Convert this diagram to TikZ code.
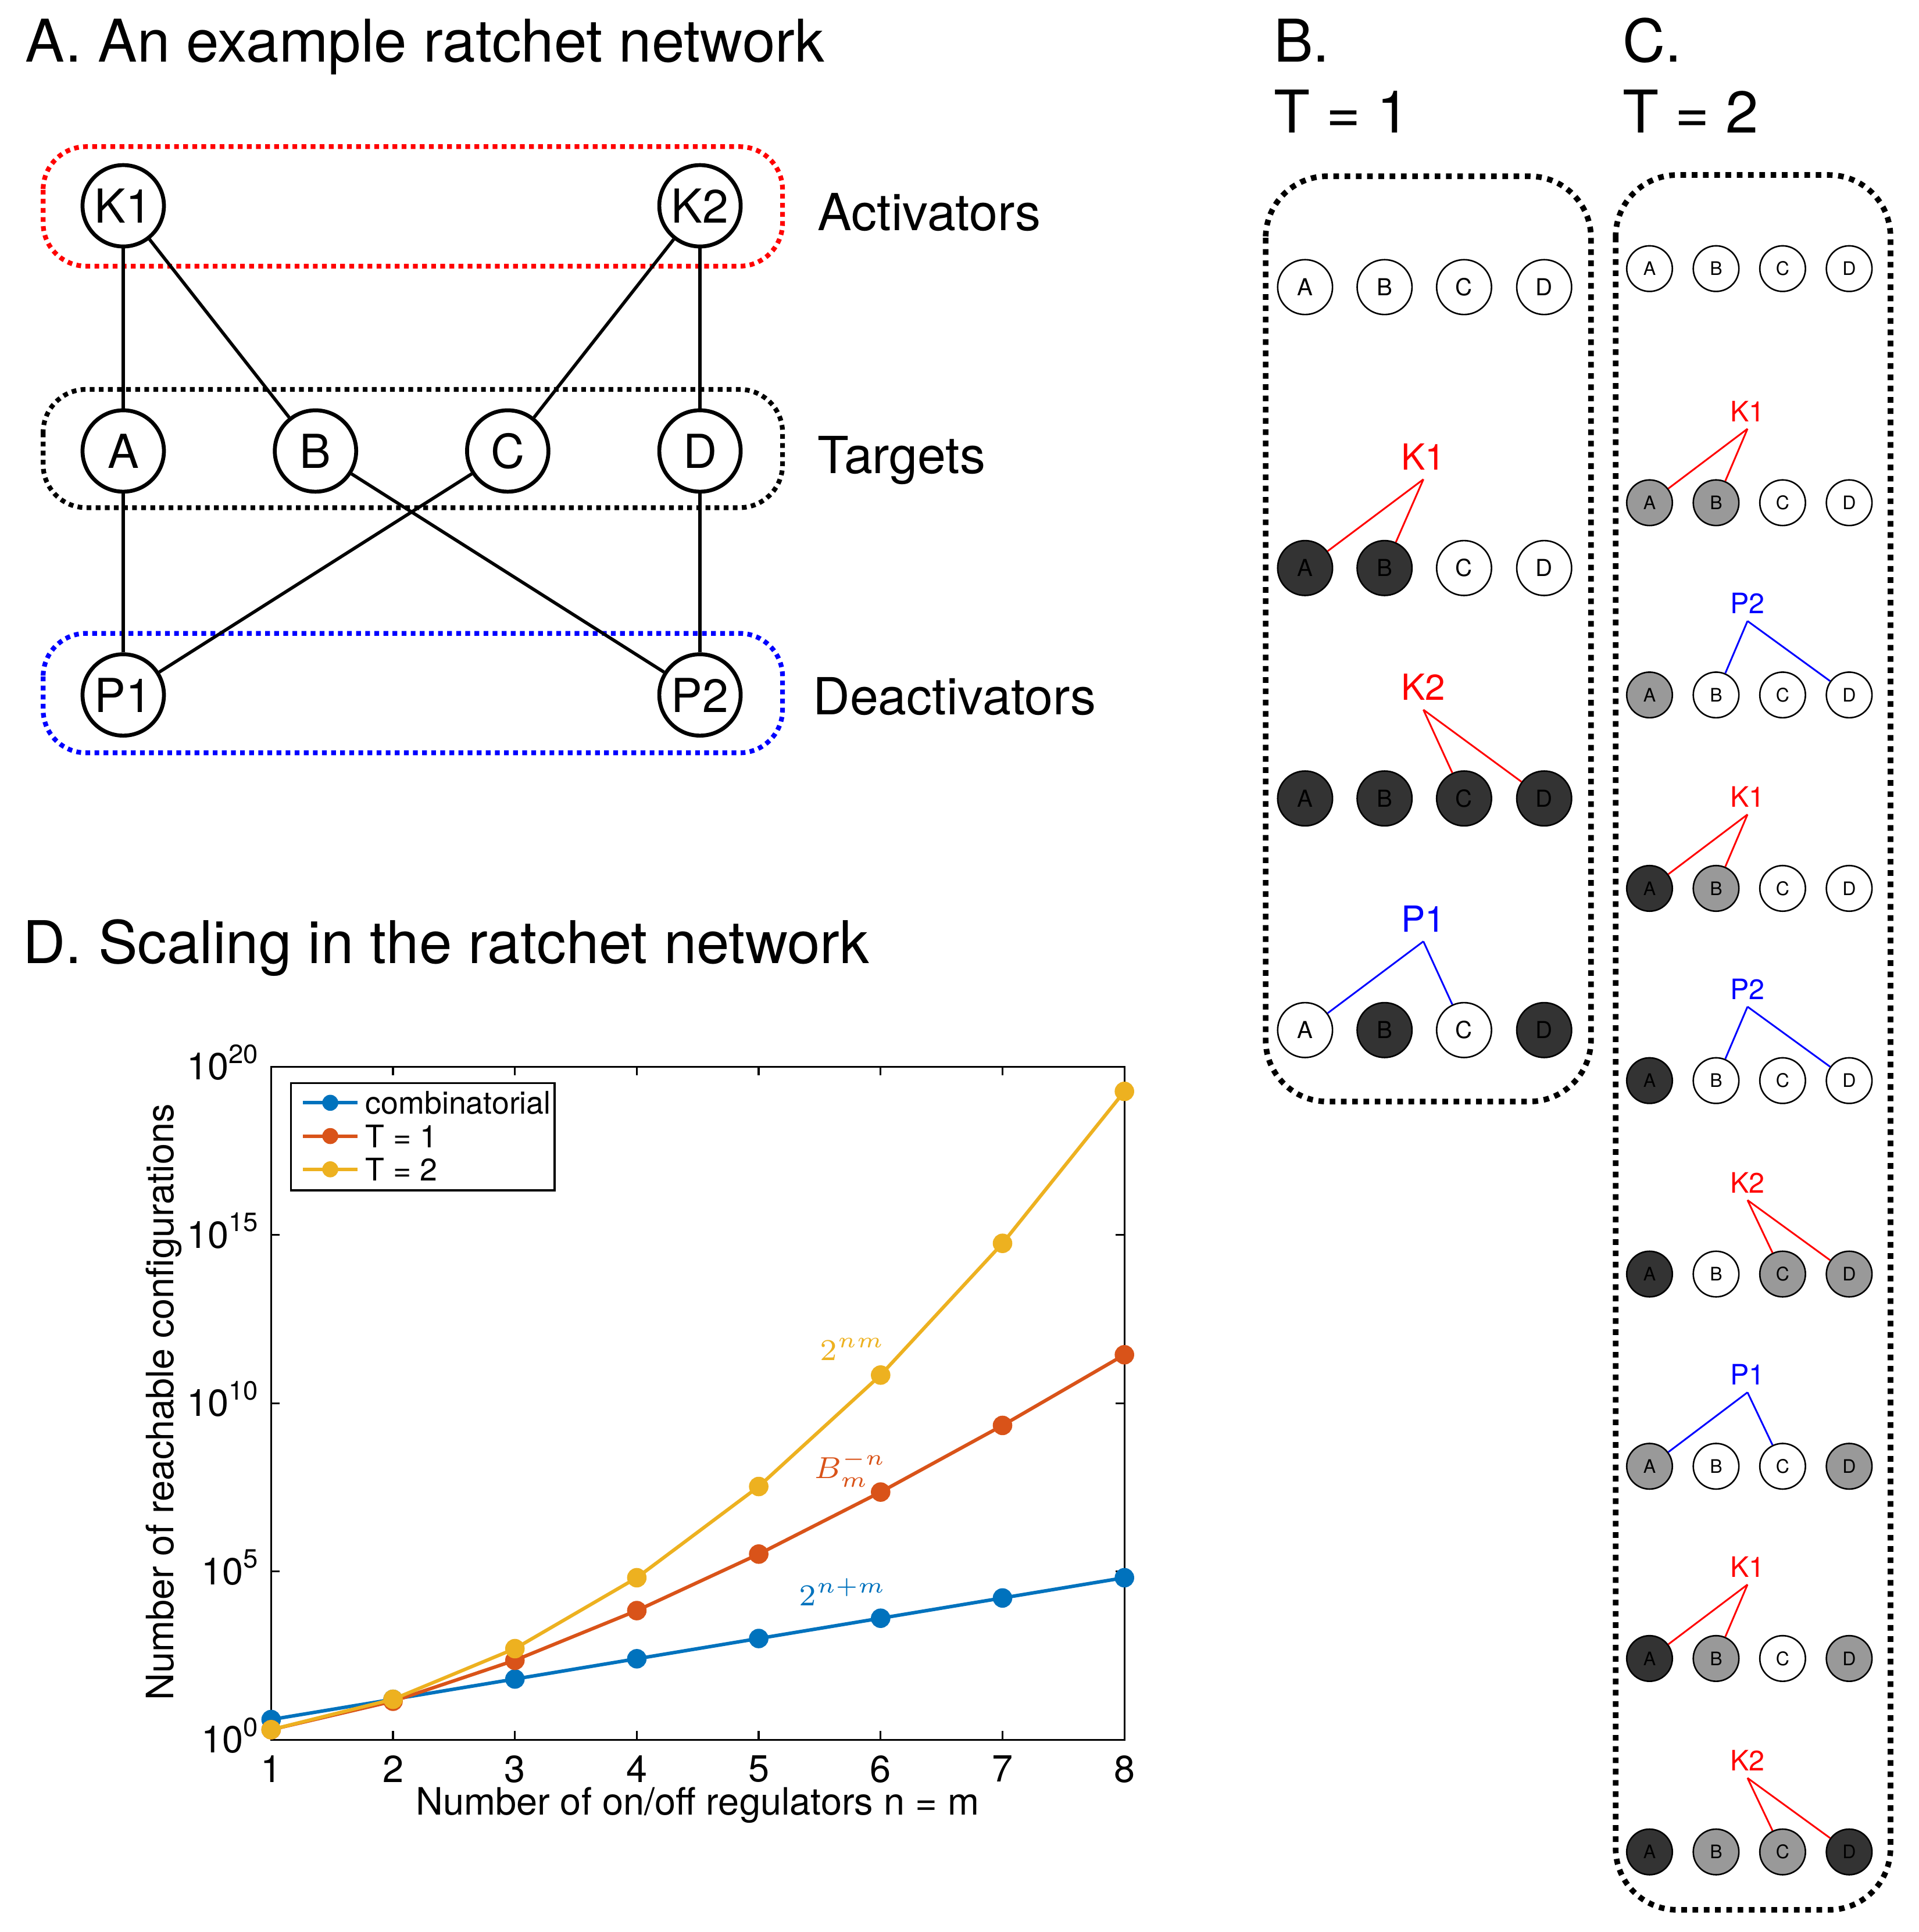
\documentclass[tikz,border=0pt]{standalone}
\usepackage{fontspec}
\setmainfont{TeX Gyre Heros}
\usepackage{tikz}
\usepackage{xcolor}

\definecolor{combblue}{rgb}{0,0.447,0.741}
\definecolor{tonecol}{rgb}{0.850,0.325,0.098}
\definecolor{ttwocol}{rgb}{0.929,0.694,0.125}

\tikzset{
  paneltitle/.style={anchor=base west, inner sep=0pt, font=\fontsize{13.6}{16}\selectfont},
  bignode/.style={circle, draw, fill=white, line width=0.9pt, minimum size=0.66cm, inner sep=0pt, font=\fontsize{10.8}{12}\selectfont},
  groupbox/.style={line width=1.1pt, dash pattern=on 1.1pt off 1pt, rounded corners=0.35cm},
  grouplabel/.style={anchor=base west, inner sep=0pt, font=\fontsize{11.8}{14}\selectfont},
  link/.style={line width=0.75pt},
  statebox/.style={line width=1.3pt, dash pattern=on 1.3pt off 1.3pt, rounded corners=0.5cm},
  bstate/.style={circle, draw, line width=0.35pt, minimum size=0.445cm, inner sep=0pt, font=\fontsize{5.4}{6}\selectfont},
  cstate/.style={circle, draw, line width=0.35pt, minimum size=0.37cm, inner sep=0pt, font=\fontsize{4.3}{5}\selectfont},
  offst/.style={fill=white},
  midst/.style={fill=black!40},
  onst/.style={fill=black!80},
  blabel/.style={anchor=south, inner sep=2pt, font=\fontsize{8.3}{9}\selectfont},
  clabel/.style={anchor=south, inner sep=1.5pt, font=\fontsize{6.5}{7}\selectfont},
  thinlink/.style={line width=0.4pt},
  axistext/.style={font=\fontsize{8.7}{10}\selectfont},
  legtext/.style={anchor=west, inner sep=0pt, font=\fontsize{7.2}{8}\selectfont},
  series/.style={line width=0.8pt, mark=*, mark size=1.85pt},
  curvelabel/.style={font=\fontsize{7.3}{9}\selectfont}
}

\begin{document}
\begin{tikzpicture}[x=0.01cm, y=-0.01cm]
  \useasboundingbox (0,0) rectangle (1557,1568);

  % Panel titles
  \node[paneltitle] (titleA) at (20,50) {A. An example ratchet network};
  \node[paneltitle] (titleB) at (1033,50) {B.};
  \node[paneltitle] (titleBT) at (1033,108) {T = 1};
  \node[paneltitle] (titleC) at (1316,50) {C.};
  \node[paneltitle] (titleCT) at (1316,108) {T = 2};
  \node[paneltitle] (titleD) at (18,782) {D. Scaling in the ratchet network};

  % A: group boxes
  \draw[groupbox, red] (35,119) rectangle (635,216);
  \draw[groupbox, black] (35,316) rectangle (635,412);
  \draw[groupbox, blue] (35,514) rectangle (635,611);

  % A: nodes
  \node[bignode] (K1) at (100,167) {K1};
  \node[bignode] (K2) at (568,167) {K2};
  \node[bignode] (A) at (100,366) {A};
  \node[bignode] (B) at (256,366) {B};
  \node[bignode] (C) at (412,366) {C};
  \node[bignode] (D) at (568,366) {D};
  \node[bignode] (P1) at (100,564) {P1};
  \node[bignode] (P2) at (568,564) {P2};

  % A: edges
  \draw[link] (K1) -- (A);
  \draw[link] (K1) -- (B);
  \draw[link] (K2) -- (C);
  \draw[link] (K2) -- (D);
  \draw[link] (A) -- (P1);
  \draw[link] (C) -- (P1);
  \draw[link] (B) -- (P2);
  \draw[link] (D) -- (P2);

  % A: group labels
  \node[grouplabel] (actlab) at (663,187) {Activators};
  \node[grouplabel] (tarlab) at (663,384) {Targets};
  \node[grouplabel] (deactlab) at (659,580) {Deactivators};

  % B: T = 1
  \draw[statebox] (1027,143) rectangle (1291,894);
  % Row 1 (start)
  \node[bstate, offst] (b1A) at (1059,233) {A};
  \node[bstate, offst] (b1B) at (1123.5,233) {B};
  \node[bstate, offst] (b1C) at (1188,233) {C};
  \node[bstate, offst] (b1D) at (1253,233) {D};
  % Row 2 (K1)
  \node[bstate, onst] (b2A) at (1059,461) {A};
  \node[bstate, onst] (b2B) at (1123.5,461) {B};
  \node[bstate, offst] (b2C) at (1188,461) {C};
  \node[bstate, offst] (b2D) at (1253,461) {D};
  \node[blabel, red] (b2lab) at (1155,389) {K1};
  \draw[thinlink, red] (b2lab.south) -- (b2A);
  \draw[thinlink, red] (b2lab.south) -- (b2B);
  % Row 3 (K2)
  \node[bstate, onst] (b3A) at (1059,648) {A};
  \node[bstate, onst] (b3B) at (1123.5,648) {B};
  \node[bstate, onst] (b3C) at (1188,648) {C};
  \node[bstate, onst] (b3D) at (1253,648) {D};
  \node[blabel, red] (b3lab) at (1155,576) {K2};
  \draw[thinlink, red] (b3lab.south) -- (b3C);
  \draw[thinlink, red] (b3lab.south) -- (b3D);
  % Row 4 (P1)
  \node[bstate, offst] (b4A) at (1059,836) {A};
  \node[bstate, onst] (b4B) at (1123.5,836) {B};
  \node[bstate, offst] (b4C) at (1188,836) {C};
  \node[bstate, onst] (b4D) at (1253,836) {D};
  \node[blabel, blue] (b4lab) at (1155,764) {P1};
  \draw[thinlink, blue] (b4lab.south) -- (b4A);
  \draw[thinlink, blue] (b4lab.south) -- (b4C);

  % C: T = 2
  \draw[statebox] (1311,142) rectangle (1534,1550);
  % Row 1 (start)
  \node[cstate, offst] (c0A) at (1338.5,218) {A};
  \node[cstate, offst] (c0B) at (1392.5,218) {B};
  \node[cstate, offst] (c0C) at (1446.5,218) {C};
  \node[cstate, offst] (c0D) at (1500.5,218) {D};
  % Row 2 (K1)
  \node[cstate, midst] (c1A) at (1338.5,408) {A};
  \node[cstate, midst] (c1B) at (1392.5,408) {B};
  \node[cstate, offst] (c1C) at (1446.5,408) {C};
  \node[cstate, offst] (c1D) at (1500.5,408) {D};
  \node[clabel, red] (c1lab) at (1418,348) {K1};
  \draw[thinlink, red] (c1lab.south) -- (c1A);
  \draw[thinlink, red] (c1lab.south) -- (c1B);
  % Row 3 (P2)
  \node[cstate, midst] (c2A) at (1338.5,564) {A};
  \node[cstate, offst] (c2B) at (1392.5,564) {B};
  \node[cstate, offst] (c2C) at (1446.5,564) {C};
  \node[cstate, offst] (c2D) at (1500.5,564) {D};
  \node[clabel, blue] (c2lab) at (1418,504) {P2};
  \draw[thinlink, blue] (c2lab.south) -- (c2B);
  \draw[thinlink, blue] (c2lab.south) -- (c2D);
  % Row 4 (K1)
  \node[cstate, onst] (c3A) at (1338.5,721) {A};
  \node[cstate, midst] (c3B) at (1392.5,721) {B};
  \node[cstate, offst] (c3C) at (1446.5,721) {C};
  \node[cstate, offst] (c3D) at (1500.5,721) {D};
  \node[clabel, red] (c3lab) at (1418,661) {K1};
  \draw[thinlink, red] (c3lab.south) -- (c3A);
  \draw[thinlink, red] (c3lab.south) -- (c3B);
  % Row 5 (P2)
  \node[cstate, onst] (c4A) at (1338.5,877) {A};
  \node[cstate, offst] (c4B) at (1392.5,877) {B};
  \node[cstate, offst] (c4C) at (1446.5,877) {C};
  \node[cstate, offst] (c4D) at (1500.5,877) {D};
  \node[clabel, blue] (c4lab) at (1418,817) {P2};
  \draw[thinlink, blue] (c4lab.south) -- (c4B);
  \draw[thinlink, blue] (c4lab.south) -- (c4D);
  % Row 6 (K2)
  \node[cstate, onst] (c5A) at (1338.5,1034) {A};
  \node[cstate, offst] (c5B) at (1392.5,1034) {B};
  \node[cstate, midst] (c5C) at (1446.5,1034) {C};
  \node[cstate, midst] (c5D) at (1500.5,1034) {D};
  \node[clabel, red] (c5lab) at (1418,974) {K2};
  \draw[thinlink, red] (c5lab.south) -- (c5C);
  \draw[thinlink, red] (c5lab.south) -- (c5D);
  % Row 7 (P1)
  \node[cstate, midst] (c6A) at (1338.5,1190) {A};
  \node[cstate, offst] (c6B) at (1392.5,1190) {B};
  \node[cstate, offst] (c6C) at (1446.5,1190) {C};
  \node[cstate, midst] (c6D) at (1500.5,1190) {D};
  \node[clabel, blue] (c6lab) at (1418,1130) {P1};
  \draw[thinlink, blue] (c6lab.south) -- (c6A);
  \draw[thinlink, blue] (c6lab.south) -- (c6C);
  % Row 8 (K1)
  \node[cstate, onst] (c7A) at (1338.5,1346) {A};
  \node[cstate, midst] (c7B) at (1392.5,1346) {B};
  \node[cstate, offst] (c7C) at (1446.5,1346) {C};
  \node[cstate, midst] (c7D) at (1500.5,1346) {D};
  \node[clabel, red] (c7lab) at (1418,1286) {K1};
  \draw[thinlink, red] (c7lab.south) -- (c7A);
  \draw[thinlink, red] (c7lab.south) -- (c7B);
  % Row 9 (K2)
  \node[cstate, onst] (c8A) at (1338.5,1503) {A};
  \node[cstate, midst] (c8B) at (1392.5,1503) {B};
  \node[cstate, midst] (c8C) at (1446.5,1503) {C};
  \node[cstate, onst] (c8D) at (1500.5,1503) {D};
  \node[clabel, red] (c8lab) at (1418,1443) {K2};
  \draw[thinlink, red] (c8lab.south) -- (c8C);
  \draw[thinlink, red] (c8lab.south) -- (c8D);

  % D: log plot, x = n-1, y = log10 of count
  \begin{scope}[shift={(220,1412)}, x=0.98857cm, y=0.273cm]
    \draw[line width=0.45pt] (0,0) rectangle (7,20);
    \foreach \i in {0,...,7} {
      \draw[line width=0.45pt] (\i,0) -- ++(0,2pt);
      \draw[line width=0.45pt] (\i,20) -- ++(0,-2pt);
      \pgfmathtruncatemacro{\lab}{\i+1}
      \node[axistext, anchor=north, inner sep=0pt] at ([yshift=-3.4pt]\i,0) {\lab};
    }
    \foreach \j in {0,5,10,15,20} {
      \draw[line width=0.45pt] (0,\j) -- ++(2pt,0);
      \draw[line width=0.45pt] (7,\j) -- ++(-2pt,0);
      \node[axistext, anchor=base east, inner sep=0pt] at ([xshift=-2.3pt, yshift=-3pt]0,\j) {10\textsuperscript{\j}};
    }
    \draw[series, combblue] plot coordinates {(0,0.602) (1,1.204) (2,1.806) (3,2.408) (4,3.010) (5,3.612) (6,4.214) (7,4.816)};
    \draw[series, tonecol] plot coordinates {(0,0.301) (1,1.146) (2,2.362) (3,3.839) (4,5.518) (5,7.361) (6,9.341) (7,11.441)};
    \draw[series, ttwocol] plot coordinates {(0,0.301) (1,1.204) (2,2.709) (3,4.816) (4,7.526) (5,10.837) (6,14.751) (7,19.266)};
  \end{scope}

  % D: axis labels
  \node[axistext] (xlab) at (566,1465) {Number of on/off regulators n = m};
  \node[axistext, rotate=90] (ylab) at (133,1138) {Number of reachable configurations};

  % D: curve labels
  \node[curvelabel, text=ttwocol] (nmlab) at (692,1095) {$2^{nm}$};
  \node[curvelabel, text=tonecol] (bmlab) at (690,1192) {$B_m^{-n}$};
  \node[curvelabel, text=combblue] (npmlab) at (684,1292) {$2^{n+m}$};

  % D: legend
  \draw[line width=0.45pt, fill=white] (236,879) rectangle (450,966);
  \draw[series, combblue, mark=none] (246,895) -- (290,895);
  \fill[combblue] (268,895) circle[radius=1.85pt];
  \node[legtext] (legcomb) at (296,895) {combinatorial};
  \draw[series, tonecol, mark=none] (246,922) -- (290,922);
  \fill[tonecol] (268,922) circle[radius=1.85pt];
  \node[legtext] (legone) at (296,922) {T = 1};
  \draw[series, ttwocol, mark=none] (246,949) -- (290,949);
  \fill[ttwocol] (268,949) circle[radius=1.85pt];
  \node[legtext] (legtwo) at (296,949) {T = 2};

\end{tikzpicture}
\end{document}
